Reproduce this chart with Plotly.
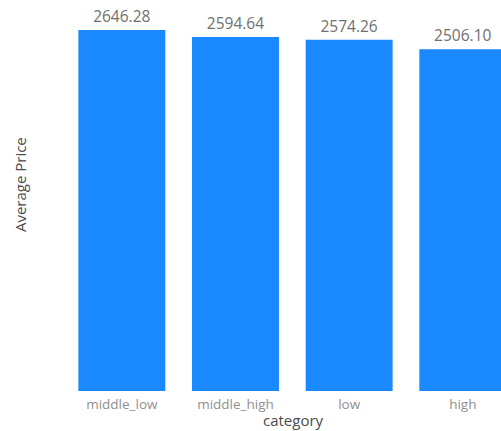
import plotly.graph_objects as go

categories = ["middle_low", "middle_high", "low", "high"]
avg_price = [2646.28, 2594.64, 2574.26, 2506.10]
value_labels = ["2646.28", "2594.64", "2574.26", "2506.10"]

fig = go.Figure(
    go.Bar(
        x=categories,
        y=avg_price,
        text=value_labels,
        textposition="outside",
        cliponaxis=False,
        marker=dict(color="#1A88FF", line=dict(width=0)),
        textfont=dict(family="Open Sans", size=15.5, color="#707070"),
    )
)

fig.update_layout(
    width=501,
    height=431,
    margin=dict(l=65, r=0, t=10, b=40),
    paper_bgcolor="white",
    plot_bgcolor="white",
    bargap=0.235,
    showlegend=False,
    font=dict(family="Open Sans", color="#444444"),
    xaxis=dict(
        range=[-0.5, 3.336],
        showgrid=False,
        zeroline=False,
        showline=False,
        ticks="",
        ticklabelstandoff=3,
        tickfont=dict(size=13.5, color="#909090"),
    ),
    yaxis=dict(
        range=[0, 2793],
        showgrid=False,
        zeroline=False,
        showline=False,
        showticklabels=False,
        ticks="",
    ),
    annotations=[
        dict(
            text="Average Price",
            textangle=-90,
            xref="paper",
            yref="paper",
            x=-0.103,
            y=0.5407,
            xanchor="center",
            yanchor="middle",
            showarrow=False,
            font=dict(family="Open Sans", size=15, color="#4a4a4a"),
        ),
        dict(
            text="category",
            xref="paper",
            yref="paper",
            x=0.525,
            y=-0.075,
            xanchor="center",
            yanchor="middle",
            showarrow=False,
            font=dict(family="Open Sans", size=15, color="#4a4a4a"),
        ),
    ],
)

fig.write_html("out.html")
